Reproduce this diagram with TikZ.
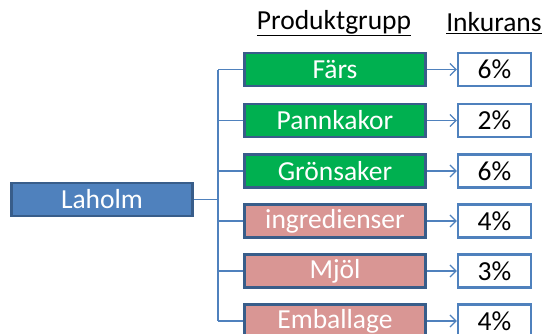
\documentclass[tikz,border=0pt]{standalone}
\usepackage{fontspec}
\setmainfont{Carlito}
\usetikzlibrary{arrows.meta}
\definecolor{bblue}{HTML}{4F81BD}
\definecolor{dblue}{HTML}{385D8A}
\definecolor{bgreen}{HTML}{00B050}
\definecolor{bpink}{HTML}{D99694}
\tikzset{
  lbl/.style={font=\fontsize{27.5}{30}\selectfont, inner sep=0pt},
  catbox/.style={lbl, draw=dblue, line width=2.6pt, minimum width=181pt, minimum height=33pt, text=white},
  grn/.style={catbox, fill=bgreen},
  pnk/.style={catbox, fill=bpink},
  pctbox/.style={lbl, draw=bblue, line width=2.2pt, fill=white, minimum width=73pt, minimum height=33pt, text=black},
  conn/.style={draw=bblue, line width=1.3pt},
  arr/.style={conn, -{Straight Barb[length=6pt,width=12pt,line width=1.3pt]}},
  hdr/.style={lbl, text=black}
}
\begin{document}
\begin{tikzpicture}[x=1pt,y=-1pt]
\useasboundingbox (0,0) rectangle (544,333);
\node[hdr] (h1) at (334,23) {\underline{Produktgrupp}};
\node[hdr] (h2) at (494,23) {\underline{Inkurans}};
\node[catbox, fill=bblue, minimum width=181pt] (lah) at (102,199.5) {Laholm};
\node[grn] (c1) at (335,69.5) {Färs};
\node[grn] (c2) at (335,120.5) {Pannkakor};
\node[grn] (c3) at (335,171) {Grönsaker};
\node[pnk] (c4) at (335,221) {ingredienser};
\node[pnk] (c5) at (335,271) {Mjöl};
\node[pnk] (c6) at (335,321) {Emballage};
\node[pctbox] (p1) at (494.5,69.5) {6\%};
\node[pctbox] (p2) at (494.5,120.5) {2\%};
\node[pctbox] (p3) at (494.5,171) {6\%};
\node[pctbox] (p4) at (494.5,221) {4\%};
\node[pctbox] (p5) at (494.5,271) {3\%};
\node[pctbox] (p6) at (494.5,321) {4\%};
\coordinate (tt) at (218,69.5);
\coordinate (tb) at (218,321);
\coordinate (tm) at (218,199.5);
\draw[conn] (tt) -- (tb);
\draw[conn] (lah.east) -- (tm);
\foreach \i in {1,...,6} {
  \draw[conn] (tt |- c\i.west) -- (c\i.west);
  \draw[arr] (c\i.east) -- (p\i.west);
}
\end{tikzpicture}
\end{document}
